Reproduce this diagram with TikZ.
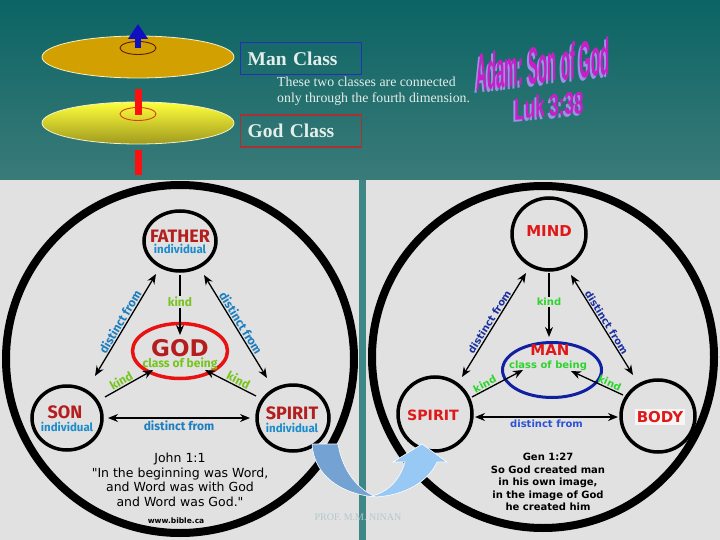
\documentclass[tikz,border=0pt]{standalone}
\usepackage{fontspec}
\setmainfont{Liberation Serif}
\newfontfamily\dvs{DejaVu Sans}
\newfontfamily\fira{Fira Sans}
\newfontfamily\libsans{Liberation Sans}
\usetikzlibrary{arrows.meta,shapes.geometric,calc}
\definecolor{bgpanel}{HTML}{E1E1E1}
\definecolor{tealtop}{HTML}{0B6464}
\definecolor{tealbot}{HTML}{3A7B79}
\definecolor{strip}{HTML}{3F8686}
\definecolor{dred}{HTML}{B41E1E}
\definecolor{indblue}{HTML}{1C8CCC}
\definecolor{lgreen}{HTML}{78C41E}
\definecolor{dblue}{HTML}{1E7EC0}
\definecolor{rred}{HTML}{E01818}
\definecolor{rgreen}{HTML}{2CD42C}
\definecolor{navy}{HTML}{1A30A0}
\definecolor{rblue}{HTML}{2A52D6}
\definecolor{godred}{HTML}{E81212}
\definecolor{manblue}{HTML}{1020A0}
\definecolor{gold}{HTML}{D2A000}
\definecolor{ylw}{HTML}{FFFF3C}
\definecolor{olive}{HTML}{A09A1E}
\definecolor{diskedge}{HTML}{F4F0C8}
\definecolor{holebrown}{HTML}{5A1E10}
\definecolor{holered}{HTML}{D84010}
\definecolor{arrowblue}{HTML}{1010C0}
\definecolor{barred}{HTML}{FF1010}
\definecolor{boxblue}{HTML}{2232B8}
\definecolor{boxred}{HTML}{A83232}
\definecolor{paletext}{HTML}{E4EEEA}
\definecolor{wamag}{HTML}{C81EC8}
\definecolor{washadow}{HTML}{9A92E6}
\definecolor{arrL}{HTML}{74A2D2}
\definecolor{arrR}{HTML}{98C8F4}
\definecolor{wm}{HTML}{B4C8CC}
\tikzset{
  ringnode/.style={ellipse, draw=black, line width=3.5pt, inner sep=0pt},
  conn/.style={draw=black, line width=1.3pt},
  tipA/.style={-{Stealth[length=10pt,width=8pt]}},
  tipB/.style={{Stealth[length=10pt,width=8pt]}-{Stealth[length=10pt,width=8pt]}},
  tipC/.style={{Stealth[length=10pt,width=8pt]}-},
  lname/.style={font=\fira\bfseries\fontsize{18}{18}\selectfont, text=dred, inner sep=0pt},
  lind/.style={font=\fira\bfseries\fontsize{11.5}{12}\selectfont, text=indblue, inner sep=0pt},
  lkind/.style={font=\fira\bfseries\fontsize{12}{12}\selectfont, text=lgreen, inner sep=1pt},
  ldist/.style={font=\fira\bfseries\fontsize{12}{12}\selectfont, text=dblue, inner sep=1pt},
  rname/.style={font=\dvs\bfseries\fontsize{15}{15}\selectfont, text=rred, inner sep=0pt},
  rkind/.style={font=\dvs\bfseries\fontsize{10}{10}\selectfont, text=rgreen, inner sep=1pt},
  rdist/.style={font=\dvs\bfseries\fontsize{10}{10}\selectfont, text=navy, inner sep=1pt},
  classbox/.style={line width=1.2pt, minimum height=32pt, text width=107pt, inner xsep=7pt, align=left,
     anchor=north west, text=paletext, font=\bfseries\fontsize{19.5}{20}\selectfont},
  wordart/.style={font=\libsans\bfseries\fontsize{52}{52}\selectfont, inner sep=0pt, yslant=0.12, xscale=0.29},
  wordartsmall/.style={font=\libsans\bfseries\fontsize{31}{31}\selectfont, inner sep=0pt, yslant=0.10, xscale=0.55}
}
\begin{document}
\begin{tikzpicture}[x=1pt,y=-1pt]
\useasboundingbox (0,0) rectangle (720,540);
% backgrounds
\shade[top color=tealtop,bottom color=tealbot] (0,0) rectangle (720,180);
\fill[strip] (0,180) rectangle (720,540);
\fill[bgpanel] (0,180) rectangle (359,540);
\fill[bgpanel] (366,180) rectangle (720,540);

% ---------- top: two class discs ----------
\node[ellipse, fill=gold, draw=diskedge, line width=0.8pt, minimum width=192pt, minimum height=42pt, inner sep=0pt] (mandisk) at (138,57) {};
\node[ellipse, draw=holebrown, line width=0.9pt, minimum width=36pt, minimum height=13pt, inner sep=0pt] (manhole) at (138,48) {};
\coordinate (uptip) at (138,24);
\draw[arrowblue, line width=6pt, -{Triangle[length=15pt,width=19pt]}] (manhole.center) -- (uptip);
\node[ellipse, top color=ylw, middle color=ylw!92!olive, bottom color=olive, draw=diskedge, line width=0.8pt, minimum width=192pt, minimum height=42pt, inner sep=0pt] (goddisk) at (138,123) {};
\node[ellipse, draw=holered, line width=0.9pt, minimum width=36pt, minimum height=13pt, inner sep=0pt] (godhole) at (138,114) {};
\fill[barred] (134.5,89) rectangle (141.5,115);
\fill[barred] (134.5,150) rectangle (141.5,175);

\node[classbox, draw=boxblue] (manbox) at (240,42) {Man Class};
\node[classbox, draw=boxred] (godbox) at (240,114.5) {God Class};
\node[align=left, anchor=north west, inner sep=0pt, text=paletext, font=\fontsize{13.8}{16}\selectfont] (desc) at (277,77)
  {These two classes are connected\\only through the fourth dimension.};

% word art
\node[wordart, text=washadow] (adamS) at (541,67) {Adam: Son of God};
\node[wordart, text=wamag] (adam) at (543,64) {Adam: Son of God};
\node[wordartsmall, text=washadow] (lukS) at (547,108) {Luk 3:38};
\node[wordartsmall, text=wamag] (luk) at (549,105.5) {Luk 3:38};

% ---------- left diagram ----------
\draw[line width=8pt] (180,359) circle[radius=174pt];
\node[ringnode, minimum width=72pt, minimum height=60pt] (father) at (180,241) {};
\node[ringnode, minimum width=70pt, minimum height=64pt] (son) at (67,418) {};
\node[ringnode, minimum width=72pt, minimum height=66pt] (spirit) at (293,418) {};
\node[ellipse, draw=godred, line width=3.5pt, inner sep=0pt, minimum width=95pt, minimum height=55pt] (god) at (180,351) {};

\node[lname] (fatherN) at (180,236) {FATHER};
\node[lind] (fatherI) at (180,249) {individual};
\node[lname] (sonN) at (65,412) {SON};
\node[lind] (sonI) at (67,427) {individual};
\node[lname] (spiritN) at (292,413) {SPIRIT};
\node[lind] (spiritI) at (292,428) {individual};
\node[font=\dvs\bfseries\fontsize{23}{23}\selectfont, text=dred, inner sep=0pt] (godN) at (180,348) {GOD};
\node[font=\fira\bfseries\fontsize{12}{12}\selectfont, text=lgreen, inner sep=0pt] (godC) at (180,364) {class of being};

\draw[conn,tipB] ($(son)+(28,-42)$) -- node[midway, above=0pt, sloped, ldist] {distinct from} ($(father)+(-24,33)$);
\draw[conn,tipB] ($(father)+(24,34)$) -- node[midway, above=0pt, sloped, ldist] {distinct from} ($(spirit)+(-26,-40)$);
\draw[conn,tipA] ($(father)+(0,34)$) -- node[pos=0.45, fill=bgpanel, lkind] {kind} ($(god)+(0,-16)$);
\draw[conn,tipA] ($(son)+(38,-21)$) -- node[pos=0.4, above=0pt, sloped, lkind] {kind} ($(god)+(-27,19)$);
\draw[conn,tipC] ($(god)+(25,19)$) -- node[pos=0.6, above=0pt, sloped, lkind] {kind} ($(spirit)+(-37,-22)$);
\draw[conn,tipB] ($(son)+(41,0)$) -- node[midway, below=1pt, ldist] {distinct from} ($(spirit)+(-43,0)$);

\node[font=\dvs\fontsize{12.5}{14.5}\selectfont, align=center, inner sep=0pt] (john) at (180,480)
  {John 1:1\\"In the beginning was Word,\\and Word was with God\\and Word was God."};
\node[font=\dvs\bfseries\fontsize{7.5}{8}\selectfont, inner sep=0pt] (bible) at (176,521) {www.bible.ca};

% ---------- right diagram ----------
\draw[line width=8pt] (543,357) circle[radius=171pt];
\node[ringnode, minimum width=74pt, minimum height=72pt] (mind) at (549,234) {};
\node[ringnode, minimum width=74pt, minimum height=74pt] (spiritR) at (435,414) {};
\node[ringnode, minimum width=74pt, minimum height=72pt] (body) at (658,416) {};
\node[ellipse, draw=manblue, line width=3pt, inner sep=0pt, minimum width=99pt, minimum height=55pt] (man) at (552,370) {};

\node[rname] (mindN) at (549,231) {MIND};
\node[rname, font=\dvs\bfseries\fontsize{14.2}{15}\selectfont] (spiritRN) at (433,415) {SPIRIT};
\node[rname, fill=white!70!bgpanel, inner sep=2pt] (bodyN) at (660,417) {BODY};
\node[rname] (manN) at (550,350) {MAN};
\node[rkind] (manC) at (548,366) {class of being};

\draw[conn,tipB] ($(spiritR)+(27,-37)$) -- node[midway, above=0pt, sloped, rdist] {distinct from} ($(mind)+(-23,39)$);
\draw[conn,tipB] ($(mind)+(22,41)$) -- node[midway, above=0pt, sloped, rdist] {distinct from} ($(body)+(-25,-41)$);
\draw[conn,tipA] ($(mind)+(0,39)$) -- node[pos=0.45, fill=bgpanel, rkind] {kind} ($(man)+(-3,-33)$);
\draw[conn,tipA] ($(spiritR)+(37,-17)$) -- node[pos=0.3, above=0pt, sloped, rkind] {kind} ($(man)+(-29,0)$);
\draw[conn,tipC] ($(man)+(19,1)$) -- node[pos=0.7, above=0pt, sloped, rkind] {kind} ($(body)+(-35,-21)$);
\draw[conn,tipB] ($(spiritR)+(40,3)$) -- node[midway, below=1pt, rdist, text=rblue] {distinct from} ($(body)+(-40,1)$);

\node[font=\dvs\bfseries\fontsize{10}{12.5}\selectfont, align=center, inner sep=0pt] (gen) at (548,482)
  {Gen 1:27\\So God created man\\in his own image,\\in the image of God\\he created him};

% ---------- curved arrow ----------
\fill[arrL, draw=white, line width=0.6pt] (312,444) -- (338,444)
  .. controls (342,468) and (355,488) .. (376,497)
  .. controls (340,494) and (314,475) .. (312,444) -- cycle;
\fill[arrR, draw=white, line width=0.6pt] (372,496)
  .. controls (388,492) and (400,480) .. (405,462) -- (393,462) -- (422,444) -- (447,462) -- (437,462)
  .. controls (428,482) and (405,495) .. (376,497) -- cycle;

\node[font=\fontsize{10}{10}\selectfont, text=wm, inner sep=0pt] (prof) at (358,517) {PROF. M.M. NINAN};
\end{tikzpicture}
\end{document}
